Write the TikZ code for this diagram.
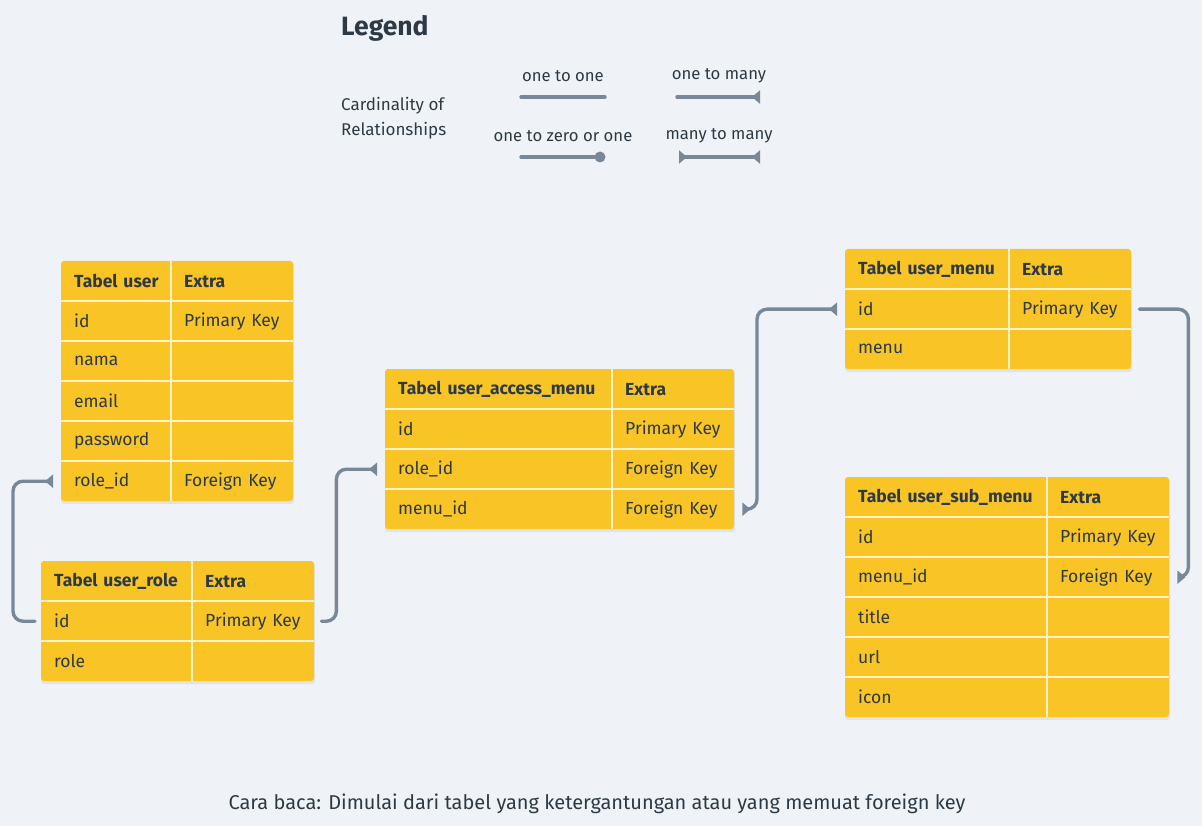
\documentclass[tikz,border=0pt]{standalone}
\usepackage{fontspec}
\setmainfont{Fira Sans}
\usetikzlibrary{arrows.meta}
\definecolor{bgc}{HTML}{EFF3F7}
\definecolor{celly}{HTML}{F8C426}
\definecolor{sepc}{HTML}{FDF1C8}
\definecolor{txtc}{HTML}{2D3A46}
\definecolor{connc}{HTML}{788898}
\tikzset{
  cell/.style={anchor=north west, minimum height=40pt, inner xsep=13pt, inner ysep=0pt,
    text=txtc, font=\fontsize{17.5}{20}\selectfont, align=left},
  hcell/.style={cell, font=\bfseries\fontsize{17.5}{20}\selectfont},
  conn/.style={draw=connc, line width=3.4pt, rounded corners=10pt, line cap=round},
  manytip/.tip={Triangle[reversed, length=8pt, width=13pt]},
  lbl/.style={text=txtc, font=\fontsize{16.7}{20}\selectfont, inner sep=0pt},
}
% \tcell[style]{name}{x}{y}{w}{text}
\newcommand\tcell[6][cell]{%
  \pgfmathsetmacro\tcw{#5-26}%
  \node[#1, text width=\tcw pt] (#2) at (#3,#4) {\mbox{#6}};}
\newcommand\tback[4]{%
  \fill[black, opacity=0.06, rounded corners=3pt] (#1,#2+1) rectangle (#1+#3+1,#2+#4+3);
  \fill[celly, rounded corners=3pt] (#1,#2) rectangle (#1+#3,#2+#4);}
\newcommand\tlines[6]{%
  \foreach \r in {1,...,#6} {\draw[sepc, line width=2pt] (#1,#2+40*\r) -- (#1+#3,#2+40*\r);}
  \draw[sepc, line width=2pt] (#5,#2) -- (#5,#2+#4);}
\begin{document}
\begin{tikzpicture}[x=1pt,y=-1pt]
\fill[bgc] (0,0) rectangle (1202,826);
\useasboundingbox (0,0) rectangle (1202,826);

% ---------- Legend ----------
\node[anchor=west, text=txtc, font=\bfseries\fontsize{26.5}{30}\selectfont, inner sep=0pt] (legend) at (341,28) {Legend};
\node[anchor=west, lbl, align=left, font=\fontsize{17}{25}\selectfont] (card) at (341,118) {Cardinality of\\Relationships};
\node[lbl] (l11) at (563,76) {one to one};
\node[lbl] (l1m) at (719,76) {one to many};
\node[lbl] (l101) at (563,136) {one to zero or one};
\node[lbl] (lmm) at (719,136) {many to many};
\coordinate (a1) at (521,97); \coordinate (a2) at (605,97);
\coordinate (b1) at (677,97); \coordinate (b2) at (760,97);
\coordinate (c1) at (521,157); \coordinate (c2) at (600,157);
\coordinate (d1) at (679,157); \coordinate (d2) at (760,157);
\draw[conn] (a1) -- (a2);
\draw[conn, -{manytip}] (b1) -- (b2);
\draw[conn] (c1) -- (c2);
\fill[connc] (c2) circle (5.5pt);
\draw[conn, {manytip}-{manytip}] (d1) -- (d2);

% ---------- Table user ----------
\tback{61}{261}{232}{240}
\tcell[hcell]{u0a}{61}{261}{110}{Tabel user}
\tcell[hcell]{u0b}{171}{261}{122}{Extra}
\tcell{u1a}{61}{301}{110}{id}
\tcell{u1b}{171}{301}{122}{Primary Key}
\tcell{u2a}{61}{341}{110}{nama}
\tcell{u2b}{171}{341}{122}{}
\tcell{u3a}{61}{381}{110}{email}
\tcell{u3b}{171}{381}{122}{}
\tcell{u4a}{61}{421}{110}{password}
\tcell{u4b}{171}{421}{122}{}
\tcell{u5a}{61}{461}{110}{role\_id}
\tcell{u5b}{171}{461}{122}{Foreign Key}
\tlines{61}{261}{232}{240}{171}{5}

% ---------- Table user_role ----------
\tback{41}{561}{273}{120}
\tcell[hcell]{ur0a}{41}{561}{151}{Tabel user\_role}
\tcell[hcell]{ur0b}{192}{561}{122}{Extra}
\tcell{ur1a}{41}{601}{151}{id}
\tcell{ur1b}{192}{601}{122}{Primary Key}
\tcell{ur2a}{41}{641}{151}{role}
\tcell{ur2b}{192}{641}{122}{}
\tlines{41}{561}{273}{120}{192}{2}

% ---------- Table user_access_menu ----------
\tback{385}{369}{349}{160}
\tcell[hcell]{ua0a}{385}{369}{227}{Tabel user\_access\_menu}
\tcell[hcell]{ua0b}{612}{369}{122}{Extra}
\tcell{ua1a}{385}{409}{227}{id}
\tcell{ua1b}{612}{409}{122}{Primary Key}
\tcell{ua2a}{385}{449}{227}{role\_id}
\tcell{ua2b}{612}{449}{122}{Foreign Key}
\tcell{ua3a}{385}{489}{227}{menu\_id}
\tcell{ua3b}{612}{489}{122}{Foreign Key}
\tlines{385}{369}{349}{160}{612}{3}

% ---------- Table user_menu ----------
\tback{845}{249}{286}{120}
\tcell[hcell]{um0a}{845}{249}{164}{Tabel user\_menu}
\tcell[hcell]{um0b}{1009}{249}{122}{Extra}
\tcell{um1a}{845}{289}{164}{id}
\tcell{um1b}{1009}{289}{122}{Primary Key}
\tcell{um2a}{845}{329}{164}{menu}
\tcell{um2b}{1009}{329}{122}{}
\tlines{845}{249}{286}{120}{1009}{2}

% ---------- Table user_sub_menu ----------
\tback{845}{477}{324}{240}
\tcell[hcell]{us0a}{845}{477}{202}{Tabel user\_sub\_menu}
\tcell[hcell]{us0b}{1047}{477}{122}{Extra}
\tcell{us1a}{845}{517}{202}{id}
\tcell{us1b}{1047}{517}{122}{Primary Key}
\tcell{us2a}{845}{557}{202}{menu\_id}
\tcell{us2b}{1047}{557}{122}{Foreign Key}
\tcell{us3a}{845}{597}{202}{title}
\tcell{us3b}{1047}{597}{122}{}
\tcell{us4a}{845}{637}{202}{url}
\tcell{us4b}{1047}{637}{122}{}
\tcell{us5a}{845}{677}{202}{icon}
\tcell{us5b}{1047}{677}{122}{}
\tlines{845}{477}{324}{240}{1047}{5}

% ---------- Connectors ----------
\draw[conn, -{manytip}] ([xshift=-6pt]ur1a.west) -- ++(-22pt,0pt) |- ([xshift=-8pt]u5a.west);
\draw[conn, -{manytip}] ([xshift=7pt]ur1b.east) -- ++(15pt,0pt) |- ([xshift=-8pt]ua2a.west);
\draw[conn, {manytip}-{manytip}] ([xshift=-8pt]um1a.west) -- ++(-80pt,0pt) |- ([xshift=8pt]ua3b.east);
\draw[conn, -{manytip}] ([xshift=8pt]um1b.east) -- ++(49pt,0pt) |- ([xshift=8pt]us2b.east);

% ---------- Footer ----------
\node[text=txtc, font=\fontsize{20}{24}\selectfont, inner sep=0pt] (foot) at (597,804) {Cara baca: Dimulai dari tabel yang ketergantungan atau yang memuat foreign key};
\end{tikzpicture}
\end{document}
